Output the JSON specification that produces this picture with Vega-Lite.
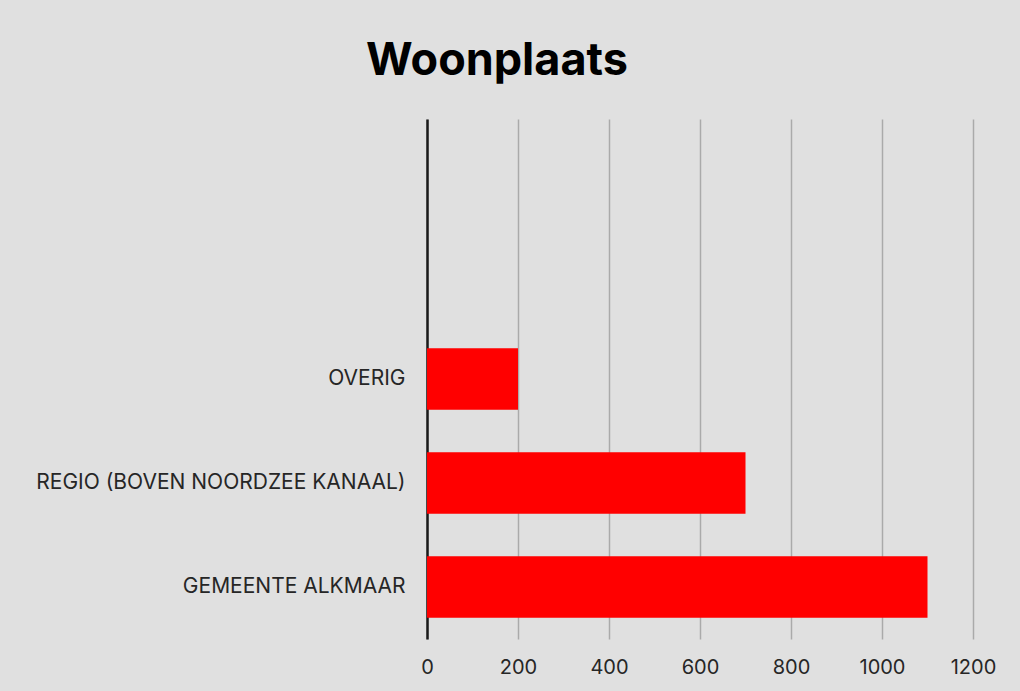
{
  "$schema": "https://vega.github.io/schema/vega-lite/v6.json",
  "width": 546,
  "height": 520,
  "autosize": {"type": "none"},
  "padding": {"left": 427, "top": 119, "right": 47, "bottom": 52},
  "background": "#e0e0e0",
  "title": {
    "text": "Woonplaats",
    "font": "Inter",
    "fontSize": 45,
    "fontWeight": "bold",
    "color": "#000000",
    "anchor": "middle",
    "dx": -203,
    "offset": 35
  },
  "data": {
    "values": [
      {"woonplaats": "GEMEENTE ALKMAAR", "aantal": 1100},
      {"woonplaats": "REGIO (BOVEN NOORDZEE KANAAL)", "aantal": 700},
      {"woonplaats": "OVERIG", "aantal": 200}
    ]
  },
  "mark": {"type": "bar", "color": "#ff0000"},
  "encoding": {
    "y": {
      "field": "woonplaats",
      "type": "nominal",
      "title": null,
      "scale": {
        "domain": [" ", "  ", "OVERIG", "REGIO (BOVEN NOORDZEE KANAAL)", "GEMEENTE ALKMAAR"],
        "paddingInner": 0.41,
        "paddingOuter": 0.205
      },
      "axis": {
        "ticks": false,
        "grid": false,
        "domain": true,
        "domainColor": "#1a1a1a",
        "domainWidth": 2.5,
        "labelFont": "Inter",
        "labelFontSize": 21,
        "labelColor": "#262626",
        "labelPadding": 22,
        "labelLimit": 500
      }
    },
    "x": {
      "field": "aantal",
      "type": "quantitative",
      "title": null,
      "scale": {"domain": [0, 1200], "nice": false},
      "axis": {
        "values": [0, 200, 400, 600, 800, 1000, 1200],
        "format": "d",
        "ticks": false,
        "domain": false,
        "grid": true,
        "gridColor": "#aaaaaa",
        "gridWidth": 1.5,
        "labelFont": "Inter",
        "labelFontSize": 20,
        "labelColor": "#262626",
        "labelPadding": 18,
        "labelFlush": false
      }
    }
  },
  "config": {
    "view": {"stroke": null}
  }
}
